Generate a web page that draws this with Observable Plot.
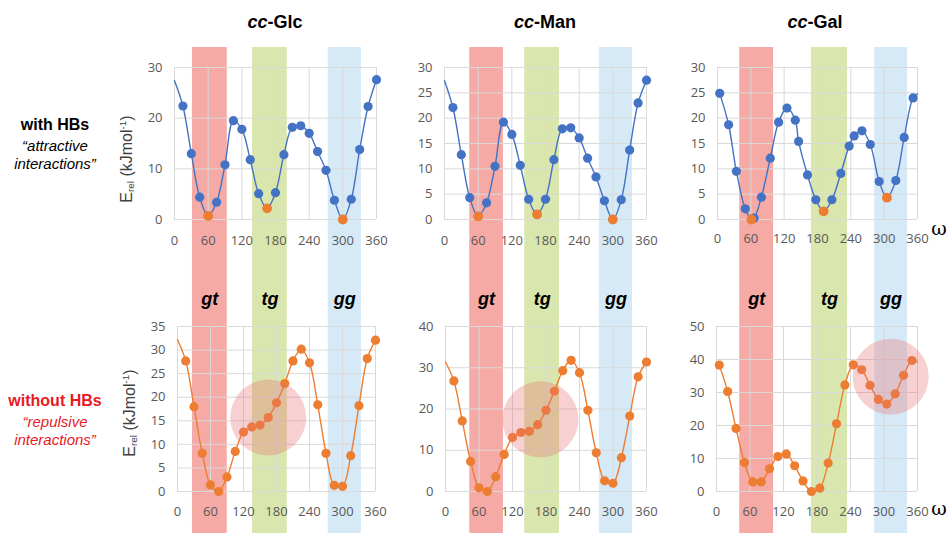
<!DOCTYPE html>
<html><head><meta charset="utf-8">
<script src="https://cdn.jsdelivr.net/npm/d3@7"></script>
<script src="https://cdn.jsdelivr.net/npm/@observablehq/plot@0.6"></script>
<style>
body{margin:0;background:#fff;}
#fig{position:relative;width:947px;height:533px;overflow:hidden;font-family:"Liberation Sans",Arial,sans-serif;background:#fff;}
.abs{position:absolute;white-space:nowrap;line-height:1;transform:translate(-50%,-50%);}
.ylab{position:absolute;white-space:nowrap;line-height:1;font-size:16px;color:#404040;font-family:"Liberation Sans",Arial,sans-serif;transform:translate(-50%,-50%) rotate(-90deg);}
.ylab sub{font-size:0.62em;vertical-align:-0.25em;}
.ylab sup{font-size:0.62em;vertical-align:0.55em;}
</style></head><body><div id="fig"></div><script>
// ---------- data ----------
const xTicks = [0, 60, 120, 180, 240, 300, 360];
const omegaScan = [0,15,30,45,60,75,90,105,120,135,150,165,180,195,210,225,240,255,270,285,300,315,330,345,360];

// with HBs (top row)
const glcTopE = [27.4,22.4,13.0,4.4,0.7,3.4,10.8,19.5,17.8,11.8,5.1,2.2,5.3,12.8,18.2,18.5,17.0,13.4,9.7,3.8,0,4.0,13.8,22.3,27.6];
const glcTopMin = [60,165,300];
const manTopE = [27.4,22.1,12.8,4.3,0.6,3.3,10.5,19.2,16.8,10.7,4.0,1.0,4.0,11.8,17.9,18.1,16.1,12.1,8.4,3.7,0,3.9,13.7,23.0,27.5];
const manTopMin = [60,165,300];
const galTopOmega = [4,20,34,50,61,66,79,95,110,125,140,146,162,177,191,206,222,237,246,260,275,291,305,321,336,352,360];
const galTopE = [24.9,18.7,9.5,2.1,0,0.3,4.4,12.1,19.2,22.0,19.6,15.4,8.8,3.9,1.6,3.9,9.1,14.5,16.5,17.5,14.8,7.5,4.3,7.7,16.2,24.0,24.8];
const galTopMin = [61,191,305];

// without HBs (bottom row)
const glcBotE = [32.2,27.7,18.0,8.1,1.4,0,3.1,8.5,12.6,13.7,14.1,15.7,18.8,22.9,27.7,30.2,27.3,18.4,8.1,1.3,1.1,7.6,18.2,28.2,32.1];
const manBotE = [31.4,26.8,17.1,7.3,0.9,0,3.6,9.0,13.1,14.3,14.6,16.2,19.7,24.3,29.3,31.8,28.8,19.7,9.4,2.6,2.0,8.2,18.3,27.8,31.4];
const galBotOmega = [5,20,35,50,65,80,95,110,125,140,155,170,185,200,215,230,245,260,275,290,305,320,335,350,360];
const galBotE = [38.3,30.3,19.1,8.8,2.9,2.9,6.9,10.6,11.4,7.8,3.2,0,1.0,8.6,20.5,32.3,38.4,36.9,32.2,27.9,26.5,29.6,35.2,39.7,39.3];

// highlighted regions (bottom row)
const circleOmega = [165, 170, 312];
const circleE = [15.7, 17.5, 34.8];

// y ticks
const yTicksGlcTop = [0,10,20,30];
const yTicks5to30 = [0,5,10,15,20,25,30];
const yTicksGlcBot = [0,5,10,15,20,25,30,35];
const yTicksManBot = [0,10,20,30,40];
const yTicksGalBot = [0,10,20,30,40,50];

// conformer bands
const bandNames = ["gt","tg","gg"];
const bandColors = ["#f5aaa6","#d9e6ae","#d6e9f6"];
const glcBandFrom = [32,139,274], glcBandTo = [94,201,333];
const manBandFrom = [45,143,276], manBandTo = [105,205,335];
const galBandFrom = [40,169,283], galBandTo = [101,234,342];

const titles = ["cc-Glc","cc-Man","cc-Gal"];

// ---------- drawing ----------
const fig = document.getElementById("fig");
const BLUE = "#4472c4", ORANGE = "#ed7d31";
const ML = 45, MR = 22, MT = 10, MB = 30;

function place(node, left, top, z) {
  node.style.position = "absolute";
  node.style.left = left + "px";
  node.style.top = top + "px";
  node.style.zIndex = z;
  fig.appendChild(node);
}

function bandLayer(from, to, fx0, fx1) {
  const bands = bandNames.map((n, i) => ({name: n, a: from[i], b: to[i], c: bandColors[i]}));
  const p = Plot.plot({
    width: (fx1 - fx0) + ML + MR, height: 486,
    marginLeft: ML, marginRight: MR, marginTop: 0, marginBottom: 0,
    x: {domain: [0, 360], axis: null},
    color: {type: "identity"},
    style: {background: "transparent", overflow: "visible"},
    marks: [
      Plot.rect(bands, {x1: "a", x2: "b", fill: "c"}),
      Plot.text(bands, {x: d => (d.a + d.b) / 2, text: "name", frameAnchor: "top", dy: 245,
        fontSize: 18, fontWeight: "bold", fontStyle: "italic", fontFamily: "Liberation Sans", fill: "#000"})
    ]
  });
  place(p, fx0 - ML, 47, 1);
}

function panel(o) {
  const rows = o.omega.map((w, i) => ({w, e: o.energy[i]}));
  const mins = rows.filter(d => o.minima.includes(d.w));
  const dots = rows.filter(d => !o.minima.includes(d.w) && !o.noMarker.includes(d.w));
  const marks = [
    Plot.ruleY(o.yTicks, {stroke: "#d9d9d9", strokeWidth: 1}),
    Plot.ruleX(xTicks, {stroke: "#d9d9d9", strokeWidth: 1}),
    Plot.line(rows, {x: "w", y: "e", stroke: o.color, strokeWidth: 1.4, curve: "catmull-rom"}),
    Plot.dot(dots, {x: "w", y: "e", r: 4.6, fill: o.color, stroke: "none"})
  ];
  if (mins.length) marks.push(Plot.dot(mins, {x: "w", y: "e", r: 4.9, fill: ORANGE, stroke: "none"}));
  if (o.circle) marks.push(Plot.dot([o.circle], {x: "w", y: "e", r: 38, fill: "#e66f6f", fillOpacity: 0.32, stroke: "none"}));
  const p = Plot.plot({
    width: (o.fx1 - o.fx0) + ML + MR, height: (o.fy1 - o.fy0) + MT + MB,
    marginLeft: ML, marginRight: MR, marginTop: MT, marginBottom: MB,
    style: {background: "transparent", fontFamily: "'Open Sans', sans-serif", fontSize: "13px", color: "#595959", overflow: "visible"},
    x: {domain: [0, 360], ticks: xTicks, tickSize: 0, tickPadding: o.xPad, label: null},
    y: {domain: [0, o.yTicks[o.yTicks.length - 1]], ticks: o.yTicks, tickSize: 0, tickPadding: 12, label: null},
    marks
  });
  place(p, o.fx0 - ML, o.fy0 - MT, 2);
}

// bands (span both rows)
bandLayer(glcBandFrom, glcBandTo, 174, 376);
bandLayer(manBandFrom, manBandTo, 444, 646);
bandLayer(galBandFrom, galBandTo, 717, 917);

// top row
panel({omega: omegaScan, energy: glcTopE, minima: glcTopMin, noMarker: [0], color: BLUE, yTicks: yTicksGlcTop, fx0: 174, fx1: 376, fy0: 67, fy1: 219, xPad: 16});
panel({omega: omegaScan, energy: manTopE, minima: manTopMin, noMarker: [0], color: BLUE, yTicks: yTicks5to30, fx0: 444, fx1: 646, fy0: 67, fy1: 219, xPad: 16});
panel({omega: galTopOmega, energy: galTopE, minima: galTopMin, noMarker: [360], color: BLUE, yTicks: yTicks5to30, fx0: 717, fx1: 917, fy0: 67, fy1: 219, xPad: 14});

// bottom row
panel({omega: omegaScan, energy: glcBotE, minima: [], noMarker: [0], color: ORANGE, yTicks: yTicksGlcBot, fx0: 177, fx1: 375, fy0: 326, fy1: 491, xPad: 15,
  circle: {w: circleOmega[0], e: circleE[0]}});
panel({omega: omegaScan, energy: manBotE, minima: [], noMarker: [0], color: ORANGE, yTicks: yTicksManBot, fx0: 445, fx1: 646, fy0: 326, fy1: 491, xPad: 15,
  circle: {w: circleOmega[1], e: circleE[1]}});
panel({omega: galBotOmega, energy: galBotE, minima: [], noMarker: [360], color: ORANGE, yTicks: yTicksGalBot, fx0: 716, fx1: 917, fy0: 326, fy1: 491, xPad: 15,
  circle: {w: circleOmega[2], e: circleE[2]}});

// ---------- text ----------
function label(html, x, y, css) {
  const d = document.createElement("div");
  d.className = "abs";
  d.innerHTML = html;
  Object.assign(d.style, {left: x + "px", top: y + "px", zIndex: 3}, css || {});
  fig.appendChild(d);
}
const titleX = [275, 545, 815];
titles.forEach((t, i) => {
  const [a, b] = t.split("-");
  label(`<i>${a}</i>-${b}`, titleX[i], 21.5, {fontSize: "18px", fontWeight: "bold", color: "#000"});
});

label("with HBs", 55, 124.5, {fontSize: "16px", fontWeight: "bold", color: "#000"});
label("\u201Cattractive", 55, 145, {fontSize: "15px", fontStyle: "italic", color: "#000"});
label("interactions\u201D", 55, 163, {fontSize: "15px", fontStyle: "italic", color: "#000"});
label("without HBs", 55, 401, {fontSize: "16px", fontWeight: "bold", color: "#e8191f"});
label("\u201Crepulsive", 55, 421, {fontSize: "15px", fontStyle: "italic", color: "#e8191f"});
label("interactions\u201D", 55, 439, {fontSize: "15px", fontStyle: "italic", color: "#e8191f"});

function ylab(x, y) {
  const d = document.createElement("div");
  d.className = "ylab";
  d.innerHTML = "E<sub>rel</sub> (kJmol<sup>-1</sup>)";
  Object.assign(d.style, {left: x + "px", top: y + "px", zIndex: 3});
  fig.appendChild(d);
}
ylab(127, 159);
ylab(130, 413);

label("\u03C9", 939, 228, {fontSize: "19px", fontFamily: "'DejaVu Serif', serif", color: "#000"});
label("\u03C9", 939, 508, {fontSize: "19px", fontFamily: "'DejaVu Serif', serif", color: "#000"});
</script></body></html>
